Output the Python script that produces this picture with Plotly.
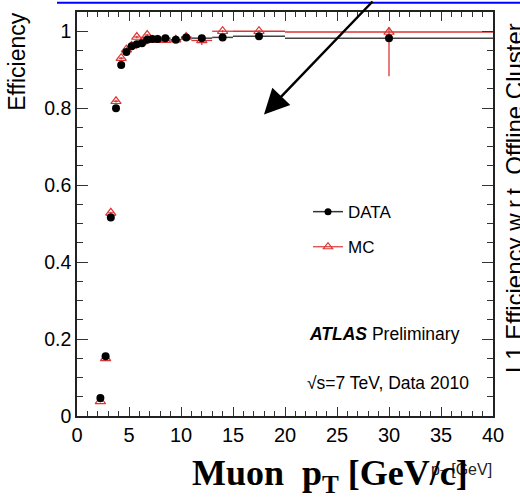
import plotly.graph_objects as go

# ---- data ----
pt_centers = [2.25, 2.75, 3.25, 3.75, 4.25, 4.75, 5.25, 5.75, 6.25, 6.75, 7.25, 7.75,
              8.5, 9.5, 10.5, 12, 14, 17.5, 30]
pt_halfwidth = [0.25] * 12 + [0.5, 0.5, 0.5, 1, 1, 2.5, 10]
eff_data = [0.047, 0.155, 0.516, 0.800, 0.912, 0.946, 0.961, 0.966, 0.969, 0.978, 0.980, 0.980,
            0.982, 0.978, 0.984, 0.982, 0.984, 0.987, 0.982]
eff_mc = [0.038, 0.150, 0.528, 0.818, 0.930, 0.952, 0.962, 0.985, 0.973, 0.990, 0.977, 0.977,
          0.977, 0.978, 0.985, 0.976, 1.000, 1.000, 0.998]
mc_err_minus = [0.003] * 15 + [0.012, 0.003, 0.003, 0.115]
mc_err_plus = [0.003] * 15 + [0.004, 0.003, 0.003, 0.012]

# pixel geometry of the plot frame
W, H = 520, 498
L, R, T, B = 77, 493, 10, 416


def px(x):
    return (x - L) / (R - L)


def py(y):
    return (B - y) / (B - T)


SANS = "Liberation Sans, Arial, Helvetica, sans-serif"
SERIF = "Liberation Serif, Times New Roman, serif"
RED = "#dd3535"

fig = go.Figure()

fig.add_trace(go.Scatter(
    x=pt_centers, y=eff_mc, mode="markers", name="MC", showlegend=False,
    marker=dict(symbol="triangle-up-open", size=9, color=RED, line=dict(width=1.2, color=RED)),
    error_x=dict(type="data", array=pt_halfwidth, width=0, thickness=1.3, color=RED),
    error_y=dict(type="data", array=mc_err_plus, arrayminus=mc_err_minus, symmetric=False,
                 width=0, thickness=1.3, color=RED),
))
fig.add_trace(go.Scatter(
    x=pt_centers, y=eff_data, mode="markers", name="DATA", showlegend=False,
    marker=dict(symbol="circle", size=8, color="black"),
    error_x=dict(type="data", array=pt_halfwidth, width=0, thickness=1.5, color="#444"),
))
# legend entries
fig.add_trace(go.Scatter(
    x=[None], y=[None], mode="lines+markers", name="DATA", legendgroup="a",
    marker=dict(symbol="circle", size=7, color="black"), line=dict(color="#333", width=1.5),
))
fig.add_trace(go.Scatter(
    x=[None], y=[None], mode="lines+markers", name="MC", legendgroup="b",
    marker=dict(symbol="triangle-up-open", size=8, color=RED, line=dict(width=1.2, color=RED)),
    line=dict(color=RED, width=1.2),
))

axis_common = dict(
    showgrid=False, zeroline=False, showline=True, linecolor="#222", linewidth=1.5,
    mirror="ticks", ticks="inside", tickcolor="#333", tickwidth=1.3,
)
fig.update_xaxes(range=[0, 40], dtick=5, ticklen=9,
                 minor=dict(dtick=1, ticklen=5, ticks="inside", tickcolor="#333", tickwidth=1.2),
                 tickfont=dict(family=SANS, size=20, color="black"), **axis_common)
fig.update_yaxes(range=[0, 1.05], dtick=0.2, ticklen=11,
                 minor=dict(dtick=0.05, ticklen=6, ticks="inside", tickcolor="#333", tickwidth=1.2),
                 tickfont=dict(family=SANS, size=19.5, color="black"), **axis_common)

annotations = [
    dict(x=px(17), y=py(60), text="Efficiency", textangle=-90, showarrow=False,
         xanchor="center", yanchor="middle", font=dict(family=SANS, size=23, color="black")),
    dict(x=px(307), y=py(334), text="<b><i>ATLAS</i></b> Preliminary", showarrow=False,
         xanchor="left", yanchor="middle", font=dict(family=SANS, size=17.5, color="black")),
    dict(x=px(305), y=py(383), text="√s=7 TeV, Data 2010", showarrow=False,
         xanchor="left", yanchor="middle", font=dict(family=SANS, size=17.5, color="black")),
    dict(x=px(494), y=py(471), text="p<sub>T</sub> [GeV]", showarrow=False,
         xanchor="right", yanchor="middle", font=dict(family=SANS, size=16, color="#222")),
    dict(x=px(190), y=py(476), text="<b>Muon\u00a0 p<sub>T</sub> [GeV/c]</b>", showarrow=False,
         xanchor="left", yanchor="middle", font=dict(family=SERIF, size=36, color="black")),
    dict(x=px(514), y=py(197), text="L1 Efficiency w.r.t. Offline Cluster", textangle=-90,
         showarrow=False, xanchor="center", yanchor="middle",
         font=dict(family=SANS, size=24, color="black")),
    dict(x=px(264), y=py(113), text="", showarrow=True, arrowhead=2, arrowsize=2,
         arrowwidth=2.5, arrowcolor="black", ax=110, ay=-118, axref="pixel", ayref="pixel"),
]
for a in annotations:
    a.setdefault("xref", "paper")
    a.setdefault("yref", "paper")

shapes = [
    dict(type="line", xref="paper", yref="paper", x0=px(57), x1=px(520), y0=py(0.8), y1=py(0.8),
         line=dict(color="#0000ff", width=2)),
]

fig.update_layout(
    width=W, height=H,
    margin=dict(l=L, r=W - R, t=T, b=H - B),
    paper_bgcolor="white", plot_bgcolor="white",
    annotations=annotations, shapes=shapes,
    legend=dict(x=px(308), y=py(193), xanchor="left", yanchor="top",
                bgcolor="rgba(0,0,0,0)", tracegroupgap=10, itemwidth=30,
                font=dict(family=SANS, size=17, color="black")),
)

fig.write_html("out.html", config={"displayModeBar": False},
               post_script="document.body.style.margin='0';")
